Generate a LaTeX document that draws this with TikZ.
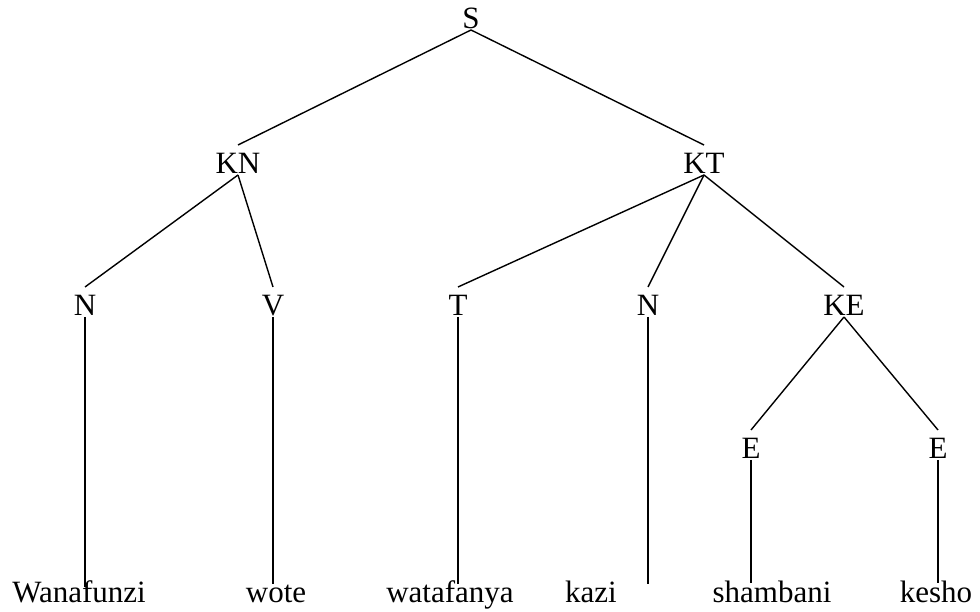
\documentclass[tikz,border=0pt]{standalone}
\usepackage{fontspec}
\setmainfont{Liberation Serif}
\usetikzlibrary{positioning}
\tikzset {
  cat/.style = {inner sep=0pt, outer sep=0pt, text height=29pt, text depth=1pt, font=\fontsize{31}{37}\selectfont},
  word/.style = {cat},
  branch/.style = {-, line width=1.4pt, color=black},
}

\begin{document}
\begin{tikzpicture}[on grid]
    \useasboundingbox (0,0) rectangle (980pt,612pt);

    \node[cat, name=s] (s) at (471pt,597pt) {S};
    \node[cat, name=kn, below left = 145pt and 233pt of s] (kn) {KN};
    \node[cat, name=kt, below right = 145pt and 233pt of s] (kt) {KT};
    \node[cat, name=n1, below left = 142pt and 153pt of kn] (n1) {N};
    \node[cat, name=v, below right = 142pt and 35pt of kn] (v) {V};
    \node[cat, name=t, below left = 142pt and 246pt of kt] (t) {T};
    \node[cat, name=n2, below left = 142pt and 56pt of kt] (n2) {N};
    \node[cat, name=ke, below right = 142pt and 140pt of kt] (ke) {KE};
    \node[cat, name=e1, below left = 143pt and 93pt of ke] (e1) {E};
    \node[cat, name=e2, below right = 143pt and 94pt of ke] (e2) {E};

    % the words sit on one line below the tree
    \node[word, name=wanafunzi, below left = 287pt and 6pt of n1] (wanafunzi) {Wanafunzi};
    \node[word, name=wote, below right = 287pt and 3pt of v] (wote) {wote};
    \node[word, name=watafanya, below left = 287pt and 8pt of t] (watafanya) {watafanya};
    \node[word, name=kazi, below left = 287pt and 57pt of n2] (kazi) {kazi};
    \node[word, name=shambani, below right = 144pt and 21pt of e1] (shambani) {shambani};
    \node[word, name=kesho, below left = 144pt and 2pt of e2] (kesho) {kesho};

    % ends of the stems that drop to the words
    \coordinate[below = 270pt of n1.south] (n1end);
    \coordinate[below = 267pt of v.south] (vend);
    \coordinate[below = 267pt of t.south] (tend);
    \coordinate[below = 267pt of n2.south] (n2end);
    \coordinate[below = 123pt of e1.south] (e1end);
    \coordinate[below = 123pt of e2.south] (e2end);

    \draw[branch] (s.south) -- (kn.north);
    \draw[branch] (s.south) -- (kt.north);
    \draw[branch] (kn.south) -- (n1.north);
    \draw[branch] (kn.south) -- (v.north);
    \draw[branch] (kt.south) -- (t.north);
    \draw[branch] (kt.south) -- (n2.north);
    \draw[branch] (kt.south) -- (ke.north);
    \draw[branch] (ke.south) -- (e1.north);
    \draw[branch] (ke.south) -- (e2.north);
    \draw[branch] (n1.south) -- (n1end);
    \draw[branch] (v.south) -- (vend);
    \draw[branch] (t.south) -- (tend);
    \draw[branch] (n2.south) -- (n2end);
    \draw[branch] (e1.south) -- (e1end);
    \draw[branch] (e2.south) -- (e2end);

  \end{tikzpicture}
\end{document}
